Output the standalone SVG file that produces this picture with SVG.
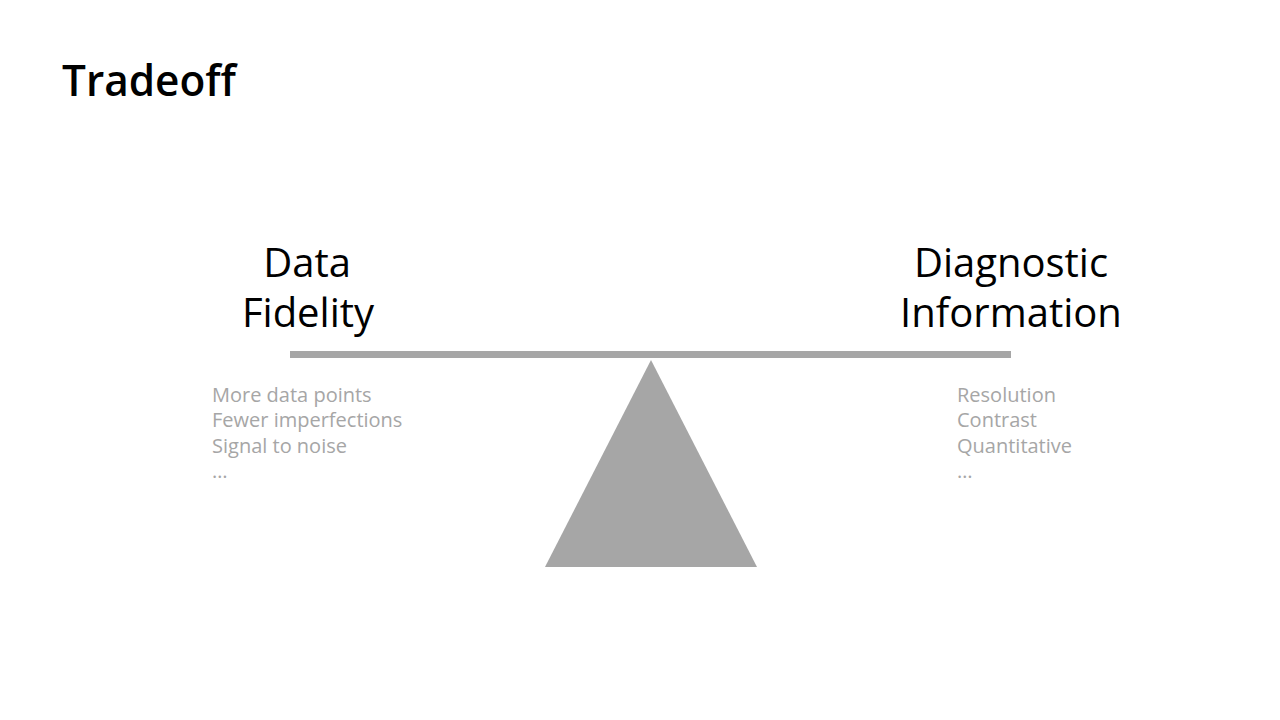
<svg xmlns="http://www.w3.org/2000/svg" width="1280" height="720" viewBox="0 0 1280 720">
<style>
.title{font-family:"Open Sans","Noto Sans",sans-serif;font-weight:600;font-size:44px;fill:#000}
.head{font-family:"Open Sans","Noto Sans",sans-serif;font-size:40px;fill:#000;text-anchor:middle}
.item{font-family:"Open Sans","Noto Sans",sans-serif;font-size:20px;fill:#a6a6a6}
.shape{fill:#a6a6a6}
</style>
<rect width="1280" height="720" fill="#fff"/>
<text class="title" x="62" y="96" textLength="174" lengthAdjust="spacingAndGlyphs">Tradeoff</text>
<g id="scale">
<rect class="shape" x="290" y="351" width="721" height="7"/>
<polygon class="shape" points="651,360 757,567 545,567"/>
</g>
<g id="left">
<text class="head" x="307" y="277">Data</text>
<text class="head" x="308" y="327">Fidelity</text>
<text class="item" x="212" y="402">More data points</text>
<text class="item" x="212" y="427">Fewer imperfections</text>
<text class="item" x="212" y="453">Signal to noise</text>
<text class="item" x="212" y="478">…</text>
</g>
<g id="right">
<text class="head" x="1011" y="277">Diagnostic</text>
<text class="head" x="1011" y="327">Information</text>
<text class="item" x="957" y="402">Resolution</text>
<text class="item" x="957" y="427">Contrast</text>
<text class="item" x="957" y="453">Quantitative</text>
<text class="item" x="957" y="478">…</text>
</g>
<g id="connectors"/>
</svg>
